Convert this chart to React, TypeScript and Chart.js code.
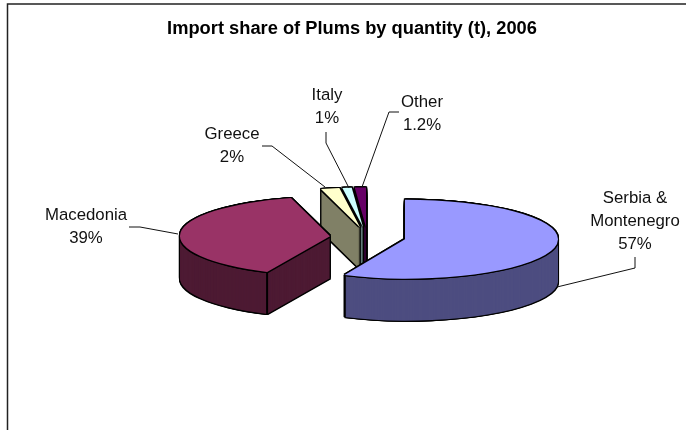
import React, { useEffect, useRef } from "react";
import { Chart, registerables, ArcElement } from "chart.js";

Chart.register(...registerables);

const titleText = "Import share of Plums by quantity (t), 2006";
const categories = ["Serbia & Montenegro", "Macedonia", "Greece", "Italy", "Other"];
const labelNames = [["Serbia &", "Montenegro"], ["Macedonia"], ["Greece"], ["Italy"], ["Other"]];
const shares = [57, 39, 2, 1, 1.2];
const topColors = ["#9999ff", "#993366", "#ffffcc", "#ccffff", "#660066"];
const wallColors = ["#4d4d80", "#4d1a33", "#808066", "#668080", "#330033"];

const FONT = '"Liberation Sans", Arial, sans-serif';
const center = { x: 367.5, y: 237 };
const rxLeft = [144, 150, 150, 150, 150];
const rxRight = 153;
const ry = 39.5;
const depth = 42;
const explodeRx = 152;
const explodeRy = 40;
const explosion = 0.25;
const drawOrder = [4, 3, 2, 1, 0];
const labelBoxes = [
  { x: 635, y: 198.5 },
  { x: 86, y: 215.5 },
  { x: 232, y: 134.5 },
  { x: 327, y: 95.5 },
  { x: 422, y: 102.5 },
];
const leaders = [
  [[635, 257], [635, 268], [557, 287]],
  [[129, 227], [140, 227], [178, 234]],
  [[262, 146], [272, 146], [325, 187]],
  [[326, 132], [326, 143], [349, 188]],
  [[399, 112], [389, 112], [362, 187]],
];

const pie3d = {
  id: "pie3d",
  beforeDatasetsDraw(chart: any) {
    const ctx = chart.ctx as CanvasRenderingContext2D;
    const arcs = chart.getDatasetMeta(0).data as any[];

    const apexOf = (el: any) => {
      const mid = (el.startAngle + el.endAngle) / 2;
      return {
        ax: Math.round(center.x + Math.cos(mid) * explosion * explodeRx),
        ay: center.y + Math.sin(mid) * explosion * explodeRy,
      };
    };

    const paint = (i: number, color: string, dx: number, dy: number) => {
      const el = arcs[i];
      const R = el.outerRadius;
      const { ax, ay } = apexOf(el);
      const view = Object.create(el, {
        options: {
          value: {
            backgroundColor: color,
            borderColor: color,
            borderWidth: 0,
            borderAlign: "center",
            offset: 0,
            spacing: 0,
            circular: true,
            borderRadius: 0,
            borderJoinStyle: "round",
            borderDash: [],
            borderDashOffset: 0,
          },
        },
      });
      const spans = el.startAngle < Math.PI / 2 && el.endAngle > Math.PI / 2;
      const part = (rx: number, clip: null | [number, number]) => {
        ctx.save();
        if (clip) {
          ctx.beginPath();
          ctx.rect(clip[0], 0, clip[1] - clip[0], 430);
          ctx.clip();
        }
        const sx = rx / R;
        const sy = ry / R;
        ctx.transform(sx, 0, 0, sy, ax + dx - el.x * sx, ay + dy - el.y * sy);
        ArcElement.prototype.draw.call(view, ctx);
        ctx.restore();
      };
      if (spans) {
        part(rxRight, [ax, 686]);
        part(rxLeft[i], [0, ax]);
      } else {
        part(rxLeft[i], null);
      }
    };

    const w = 1.1;
    const around = [[-w, 0], [w, 0], [0, -w], [0, w], [-w, -w], [w, -w], [-w, w], [w, w]];

    drawOrder.forEach((i) => {
      for (let d = depth; d >= 0; d -= 1) {
        around.forEach(([ox, oy]) => paint(i, "#000000", ox, oy + d));
      }
      for (let d = depth; d >= 0; d -= 1) paint(i, wallColors[i], 0, d);

      const el = arcs[i];
      const { ax, ay } = apexOf(el);
      [el.startAngle, el.endAngle].forEach((a: number) => {
        if (Math.sin(a) > 0.2) {
          const x = ax + Math.cos(a) * (Math.cos(a) < 0 ? rxLeft[i] : rxRight);
          const y = ay + Math.sin(a) * ry;
          ctx.save();
          ctx.strokeStyle = "#000000";
          ctx.lineWidth = 2;
          ctx.beginPath();
          ctx.moveTo(x, y);
          ctx.lineTo(x, y + depth);
          ctx.stroke();
          ctx.restore();
        }
      });

      around.forEach(([ox, oy]) => paint(i, "#000000", ox, oy));
      paint(i, topColors[i], 0, 0);
    });
    return false;
  },
  afterDraw(chart: any) {
    const ctx = chart.ctx as CanvasRenderingContext2D;
    ctx.save();
    ctx.strokeStyle = "#222222";
    ctx.lineWidth = 1.5;
    ctx.beginPath();
    ctx.moveTo(7.5, 430);
    ctx.lineTo(7.5, 4);
    ctx.lineTo(686, 4);
    ctx.stroke();

    ctx.strokeStyle = "#111111";
    ctx.lineWidth = 1;
    leaders.forEach((pts) => {
      ctx.beginPath();
      pts.forEach(([x, y], k) => (k ? ctx.lineTo(x, y) : ctx.moveTo(x, y)));
      ctx.stroke();
    });

    ctx.fillStyle = "#111111";
    ctx.font = `16.8px ${FONT}`;
    ctx.textAlign = "center";
    ctx.textBaseline = "middle";
    labelNames.forEach((lines, i) => {
      const all = [...lines, `${shares[i]}%`];
      all.forEach((t, k) => ctx.fillText(t, labelBoxes[i].x, labelBoxes[i].y + k * 23));
    });
    ctx.restore();
  },
};

export default function App() {
  const ref = useRef<HTMLCanvasElement>(null);
  useEffect(() => {
    const chart = new Chart(ref.current as HTMLCanvasElement, {
      type: "pie",
      data: {
        labels: categories,
        datasets: [{ data: shares, backgroundColor: topColors, borderWidth: 0 }],
      },
      options: {
        animation: false,
        responsive: false,
        events: [],
        layout: { padding: { left: 18, right: 0, top: 0, bottom: 0 } },
        plugins: {
          legend: { display: false },
          tooltip: { enabled: false },
          title: {
            display: true,
            text: titleText,
            color: "#000000",
            font: { family: FONT, size: 18.3, weight: "bold" },
            padding: { top: 18, bottom: 10 },
          },
        },
      },
      plugins: [pie3d],
    } as any);
    return () => chart.destroy();
  }, []);
  return (
    <div style={{ position: "fixed", left: 0, top: 0, width: 686, height: 430, background: "#ffffff" }}>
      <canvas ref={ref} width={686} height={430} style={{ display: "block" }} />
    </div>
  );
}
